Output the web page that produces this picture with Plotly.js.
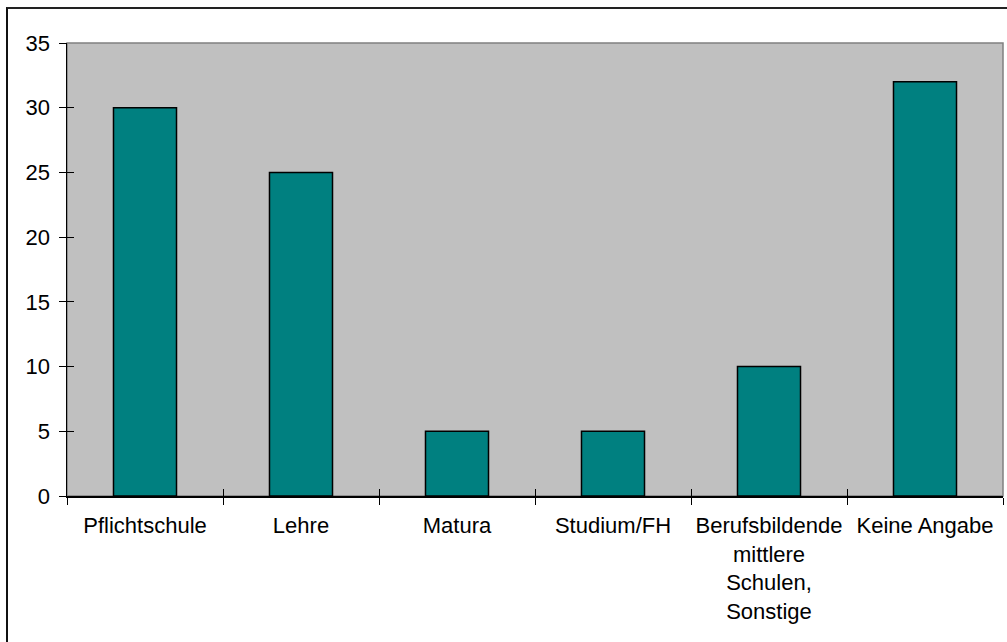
<!DOCTYPE html>
<html>
<head>
<meta charset="utf-8">
<script src="https://cdn.plot.ly/plotly-3.0.1.min.js"></script>
<style>
html, body { margin: 0; padding: 0; background: #fff; }
#wrap { position: relative; width: 1007px; height: 642px; overflow: hidden; }
#chart { width: 1007px; height: 642px; }
#frame { position: absolute; left: 6px; top: 7px; width: 1100px; height: 800px;
  border-left: 2px solid #111; border-top: 2px solid #222; pointer-events: none; }
</style>
</head>
<body>
<div id="wrap">
<div id="chart"></div>
<div id="frame"></div>
</div>
<script>
const categories = ["Pflichtschule", "Lehre", "Matura", "Studium/FH",
  "Berufsbildende<br>mittlere<br>Schulen,<br>Sonstige", "Keine Angabe"];
const values = [30, 25, 5, 5, 10, 32];
const yTickValues = [0, 5, 10, 15, 20, 25, 30, 35];

const font = {family: "Liberation Sans, Arial, sans-serif", size: 22, color: "#000"};

const traces = [
  {
    type: "bar", x: categories, y: values,
    marker: {color: "#008080", line: {color: "#000", width: 1.5}},
    hoverinfo: "x+y"
  },
  {
    type: "scatter", mode: "none", x: categories, y: values,
    xaxis: "x2", yaxis: "y2", hoverinfo: "skip", showlegend: false
  }
];

const layout = {
  width: 1007, height: 642,
  margin: {l: 67, r: 4, t: 43, b: 146},
  paper_bgcolor: "#fff",
  plot_bgcolor: "#c0c0c0",
  showlegend: false,
  bargap: 0.596,
  font: font,
  xaxis: {
    type: "category", tickson: "boundaries", ticks: "outside", ticklen: 7,
    tickcolor: "#000", tickwidth: 1, showline: true, linecolor: "#000", linewidth: 1.5,
    showgrid: false, tickfont: font, range: [-0.5, 5.5], fixedrange: true,
    ticklabelstandoff: 9
  },
  xaxis2: {
    type: "category", overlaying: "x", matches: "x", anchor: "y2", side: "bottom",
    tickson: "boundaries", ticks: "inside", ticklen: 7, tickcolor: "#000", tickwidth: 1,
    showticklabels: false, showline: false, showgrid: false, range: [-0.5, 5.5]
  },
  yaxis: {
    range: [0, 35], tickvals: yTickValues, ticks: "outside", ticklen: 7,
    tickcolor: "#000", tickwidth: 1, showline: true, linecolor: "#000", linewidth: 1.5,
    showgrid: false, zeroline: false, tickfont: font, fixedrange: true,
    ticklabelstandoff: 4
  },
  yaxis2: {
    range: [0, 35], tickvals: yTickValues, overlaying: "y", anchor: "x2", side: "left",
    ticks: "inside", ticklen: 7, tickcolor: "#000", tickwidth: 1,
    showticklabels: false, showline: false, showgrid: false, zeroline: false
  },
  shapes: [
    {type: "rect", xref: "x domain", yref: "y domain", x0: 0, x1: 1, y0: 0, y1: 1,
     line: {color: "#808080", width: 1.5}, layer: "below"}
  ]
};

Plotly.newPlot("chart", traces, layout, {displayModeBar: false, staticPlot: true});
</script>
</body>
</html>
